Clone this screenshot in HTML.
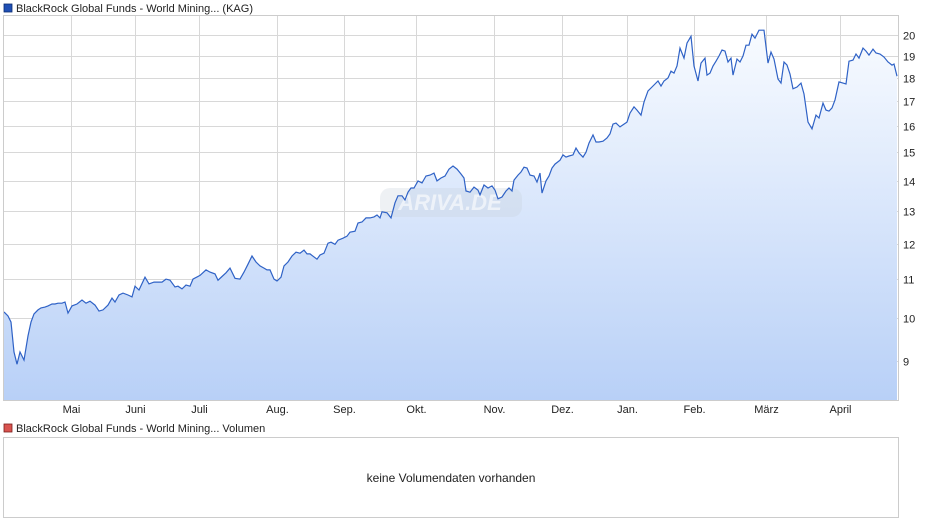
<!DOCTYPE html>
<html><head><meta charset="utf-8"><style>
body{margin:0;background:#fff;font-family:"Liberation Sans",Arial,sans-serif}
svg text{font-family:"Liberation Sans",Arial,sans-serif}
</style></head><body>
<svg width="940" height="526" xmlns="http://www.w3.org/2000/svg">
<defs><linearGradient id="g" x1="0" y1="0" x2="0" y2="1"><stop offset="0" stop-color="#f8fbff"/><stop offset="1" stop-color="#b8d0f7"/></linearGradient></defs>
<rect x="4" y="4" width="8" height="8" fill="#1f4fb5" stroke="#0b2c70" stroke-width="0.8"/>
<text x="16" y="12" font-size="11" fill="#222">BlackRock Global Funds - World Mining... (KAG)</text>
<g id="grid"></g>
<path id="area" fill="url(#g)"/>
<g id="wm"><rect x="380" y="188" width="142" height="29" rx="10" fill="#c8cfdb" opacity="0.3"/><text x="450" y="210" font-size="22" font-style="italic" font-weight="bold" fill="#fff" opacity="0.6" text-anchor="middle">ARIVA.DE</text></g>
<path id="line" fill="none" stroke="#2f62c6" stroke-width="1.2"/>
<rect x="3.5" y="15.5" width="895" height="385" fill="none" stroke="#ccc"/>
<g id="yt"></g>
<g id="xt"></g>
<rect x="4" y="424" width="8" height="8" fill="#d9534f" stroke="#7a1e1b" stroke-width="0.8"/>
<text x="16" y="432" font-size="11" fill="#222">BlackRock Global Funds - World Mining... Volumen</text>
<rect x="3.5" y="437.5" width="895" height="80" fill="#fff" stroke="#ccc"/>
<text x="451" y="482" font-size="12" fill="#222" text-anchor="middle">keine Volumendaten vorhanden</text>
</svg>
<script>
const values=[10.15,10.05,9.90,9.20,8.93,9.20,9.02,9.57,9.90,10.10,10.20,10.25,10.27,10.30,10.35,10.35,10.37,10.37,10.40,10.12,10.30,10.35,10.45,10.37,10.42,10.32,10.17,10.20,10.32,10.50,10.40,10.58,10.63,10.58,10.53,10.81,10.71,11.05,10.87,10.92,10.92,10.92,11.00,10.97,10.79,10.81,10.74,10.84,10.81,11.00,11.10,11.25,11.19,11.14,10.97,11.07,11.17,11.30,11.02,11.00,11.19,11.41,11.64,11.47,11.36,11.30,11.25,11.25,11.00,10.95,11.05,11.36,11.47,11.64,11.75,11.72,11.81,11.70,11.70,11.55,11.67,11.72,12.01,12.04,11.98,12.10,12.16,12.22,12.34,12.37,12.62,12.65,12.78,12.78,12.81,12.87,12.78,12.97,12.94,12.78,13.26,13.49,13.49,13.35,13.61,13.75,13.75,13.99,13.92,14.16,14.19,14.26,13.99,14.09,14.16,14.40,14.51,14.40,14.23,14.09,13.65,13.61,13.78,13.68,13.52,13.85,13.75,13.82,13.68,13.39,13.45,13.65,13.75,13.65,14.02,14.19,14.30,14.47,14.44,14.19,14.16,13.95,14.26,13.58,13.99,14.16,14.44,14.58,14.72,14.91,14.83,14.87,14.91,15.16,14.98,14.83,15.01,15.35,15.66,15.39,15.39,15.42,15.54,15.70,16.08,16.12,15.97,16.08,16.16,16.52,16.77,16.64,16.44,16.97,17.44,17.61,17.74,17.87,17.65,17.87,18.00,18.31,18.22,18.54,19.37,18.90,19.61,19.94,18.54,17.87,18.67,18.90,18.13,18.22,18.54,18.76,19.00,19.28,19.23,18.72,18.90,18.13,18.86,18.72,19.00,19.51,19.51,20.04,19.85,20.24,20.24,18.67,19.18,18.86,17.96,17.78,18.72,18.58,18.18,17.53,17.61,17.78,17.31,16.16,15.89,16.44,16.32,16.93,16.64,16.60,16.73,17.06,17.83,17.78,17.74,18.76,18.81,19.09,18.90,19.37,19.23,19.04,19.32,19.14,19.09,18.95,18.72,18.58,18.63,18.08];
// time of each observation (time units, 0 = first session, 893 = last)
const times=[0,4,7,10,13,16,20,24,27,30,34,37,41,44,48,51,54,58,61,64,68,73,78,82,86,91,95,99,104,108,111,115,119,124,128,131,135,141,145,150,154,158,162,166,171,174,178,182,186,189,196,202,206,211,214,218,222,226,231,236,240,244,248,252,256,260,263,266,270,273,277,280,284,288,292,296,300,303,306,313,316,320,324,327,331,334,339,343,346,351,354,358,362,366,370,373,376,378,383,387,391,394,398,401,404,407,410,414,418,422,426,430,433,437,441,445,449,453,457,460,462,466,470,474,476,480,484,488,491,494,498,502,505,508,510,514,517,520,523,526,530,533,536,538,542,545,548,551,556,559,562,565,569,572,575,579,582,585,589,592,595,599,603,606,609,612,616,620,623,626,630,633,637,640,644,648,651,654,657,660,664,667,670,673,676,680,683,687,690,694,697,701,703,706,709,712,715,718,721,724,727,729,733,736,739,742,745,748,751,755,760,764,767,770,774,777,780,783,786,789,793,797,800,804,808,812,815,819,822,825,828,831,835,839,842,845,849,852,855,859,862,865,869,872,876,880,884,888,890,893];
const yTicks=[9,10,11,12,13,14,15,16,17,18,19,20];
const monthLabels=["Mai","Juni","Juli","Aug.","Sep.","Okt.","Nov.","Dez.","Jan.","Feb.","März","April"];
const monthTimes=[67,131,195,273,340,412,490,558,623,690,762,836];
const NS="http://www.w3.org/2000/svg";
const X0=4,X1=897,BOT=401,TMAX=893;
function xs(t){return X0+(X1-X0)*t/TMAX;}
function ys(v){return 318-(Math.log10(v)-1)*940;}
const grid=document.getElementById('grid'),yt=document.getElementById('yt'),xt=document.getElementById('xt');
function mk(t,a,p){const e=document.createElementNS(NS,t);for(const k in a)e.setAttribute(k,a[k]);p.appendChild(e);return e;}
yTicks.forEach(v=>{const y=Math.round(ys(v))+0.5;
const l=mk('line',{x1:4,x2:898,y1:y,y2:y,stroke:'#d8d8d8'},grid);


const t=mk('text',{x:903,y:y+4,'font-size':11,fill:'#222'},yt);t.textContent=v;

});
monthLabels.forEach((m,k)=>{const x=Math.round(xs(monthTimes[k]))+0.5;
const l=mk('line',{x1:x,x2:x,y1:16,y2:401,stroke:'#d8d8d8'},grid);


const t=mk('text',{x:x,y:413,'font-size':11,fill:'#222','text-anchor':'middle'},xt);t.textContent=m;

});
let d='';values.forEach((v,i)=>{const t=times[i]!==undefined?times[i]:TMAX*i/(values.length-1);d+=(i?'L':'M')+xs(t).toFixed(1)+' '+ys(v).toFixed(1);});
document.getElementById('line').setAttribute('d',d);
document.getElementById('area').setAttribute('d',d+'L'+X1+' '+BOT+'L'+X0+' '+BOT+'Z');
</script>
</body></html>
